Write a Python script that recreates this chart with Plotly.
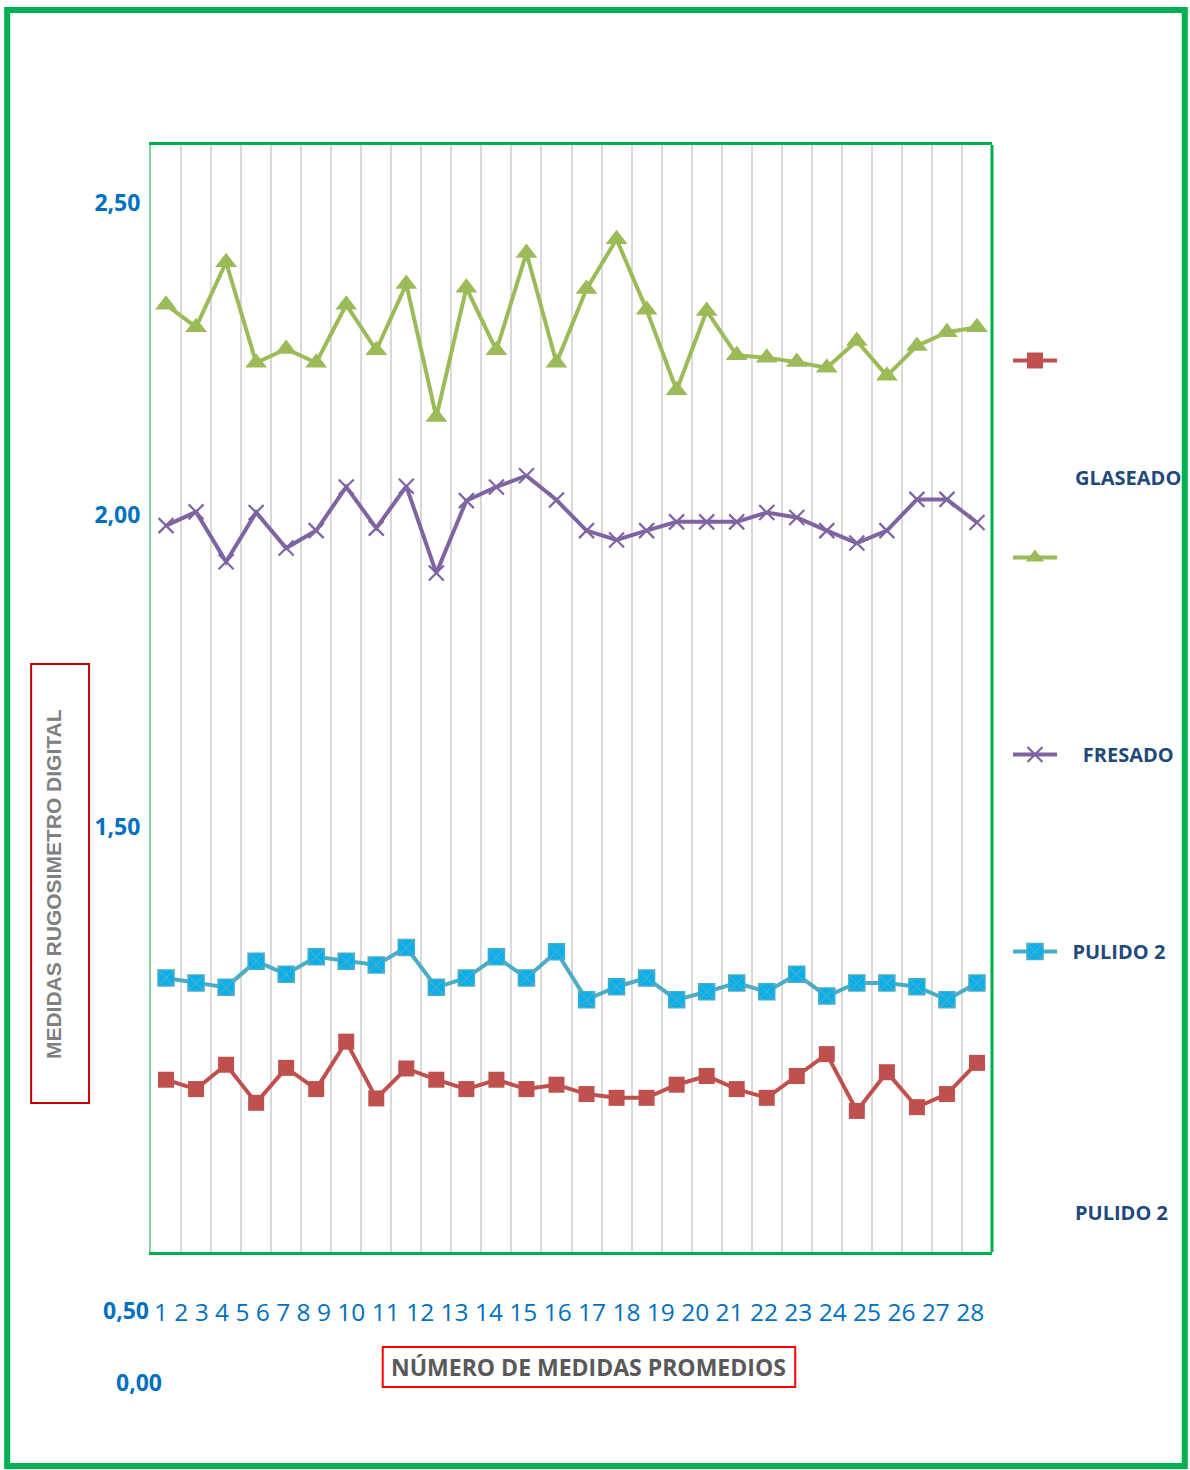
import plotly.graph_objects as go

# Roughness readings (digital profilometer), 28 averaged measurements per finish
medidas = list(range(1, 29))

glaseado = [1.095, 1.080, 1.119, 1.058, 1.114, 1.080, 1.156, 1.065, 1.113, 1.095,
            1.080, 1.095, 1.080, 1.087, 1.072, 1.066, 1.066, 1.087, 1.101, 1.080,
            1.066, 1.101, 1.136, 1.045, 1.107, 1.051, 1.072, 1.122]

serie_verde = [2.337, 2.301, 2.405, 2.244, 2.266, 2.244, 2.337, 2.264, 2.370, 2.157,
               2.364, 2.264, 2.420, 2.244, 2.362, 2.442, 2.329, 2.200, 2.327, 2.256,
               2.252, 2.245, 2.236, 2.279, 2.223, 2.271, 2.293, 2.301]

fresado = [1.983, 2.005, 1.925, 2.004, 1.947, 1.975, 2.045, 1.979, 2.046, 1.907,
           2.023, 2.045, 2.063, 2.024, 1.975, 1.960, 1.975, 1.989, 1.989, 1.989,
           2.004, 1.996, 1.975, 1.955, 1.975, 2.025, 2.025, 1.988]

pulido2 = [1.258, 1.250, 1.243, 1.285, 1.264, 1.292, 1.285, 1.279, 1.307, 1.243,
           1.258, 1.292, 1.258, 1.300, 1.223, 1.244, 1.258, 1.223, 1.236, 1.250,
           1.236, 1.264, 1.229, 1.250, 1.250, 1.244, 1.223, 1.250]

y_ticks = [2.5, 2.0, 1.5]
y_tick_text = ["2,50", "2,00", "1,50"]
x_label_text = " ".join(str(m) for m in medidas)

W, H = 1190, 1470
L, R, T, B = 151, 993, 145, 1252  # plot area in pixels


def px(x):
    return (x - L) / (R - L)


def py(y):
    return (B - y) / (B - T)


BLUE = "#0070C0"
NAVY = "#1F497D"
FONT = "Open Sans"

fig = go.Figure()

fig.add_trace(go.Scatter(
    x=medidas, y=glaseado, name="", legendgroup="a", mode="lines+markers",
    line=dict(color="#C0504D", width=4),
    marker=dict(symbol="square", size=16, color="#C0504D")))

fig.add_trace(go.Scatter(
    x=medidas, y=serie_verde, name="", legendgroup="b", mode="lines+markers",
    line=dict(color="#9BBB59", width=4),
    marker=dict(symbol="triangle-up", size=19, color="#9BBB59")))

fig.add_trace(go.Scatter(
    x=medidas, y=fresado, name="    FRESADO", legendgroup="c", mode="lines+markers",
    line=dict(color="#8064A2", width=4),
    marker=dict(symbol="x-thin", size=15, color="#8064A2",
                line=dict(color="#8064A2", width=2.2))))

fig.add_trace(go.Scatter(
    x=medidas, y=pulido2, name="  PULIDO 2", legendgroup="d", mode="lines+markers",
    line=dict(color="#4BACC6", width=4),
    marker=dict(symbol="square-x", size=16, color="#00B0F0",
                line=dict(color="#4BACC6", width=1.5))))

annotations = [
    # category numbers written as one row below the plot
    dict(x=px(152), y=py(1311), xref="paper", yref="paper", xanchor="left", yanchor="middle",
         text=x_label_text, showarrow=False, font=dict(family=FONT, size=24.5, color=BLUE)),
    dict(x=px(151), y=py(1310), xref="paper", yref="paper", xanchor="right", yanchor="middle",
         text="<b>0,50</b>", showarrow=False, font=dict(family=FONT, size=23, color=BLUE)),
    dict(x=px(139), y=py(1382), xref="paper", yref="paper", xanchor="center", yanchor="middle",
         text="<b>0,00</b>", showarrow=False, font=dict(family=FONT, size=23, color=BLUE)),
    # axis titles
    dict(x=px(589), y=py(1367), xref="paper", yref="paper", xanchor="center", yanchor="middle",
         text="<b>NÚMERO DE MEDIDAS PROMEDIOS</b>", showarrow=False,
         font=dict(family=FONT, size=23, color="#595959")),
    dict(x=px(53), y=py(884), xref="paper", yref="paper", xanchor="center", yanchor="middle",
         text="<b>MEDIDAS RUGOSIMETRO DIGITAL</b>", showarrow=False, textangle=-90,
         font=dict(family="Liberation Sans", size=21, color="#808080")),
    # loose legend captions
    dict(x=px(1074), y=py(478), xref="paper", yref="paper", xanchor="left", yanchor="middle",
         text="<b>GLASEADO</b>", showarrow=False, font=dict(family=FONT, size=20, color=NAVY)),
    dict(x=px(1074), y=py(1212), xref="paper", yref="paper", xanchor="left", yanchor="middle",
         text="<b>PULIDO 2</b>", showarrow=False, font=dict(family=FONT, size=20, color=NAVY)),
]

shapes = [
    # outer frame
    dict(type="rect", xref="paper", yref="paper", x0=px(7), x1=px(1186), y0=py(1466), y1=py(10),
         line=dict(color="#00B050", width=6)),
    # boxes around the axis titles
    dict(type="rect", xref="paper", yref="paper", x0=px(31), x1=px(89), y0=py(1103), y1=py(664),
         line=dict(color="#C00000", width=2)),
    dict(type="rect", xref="paper", yref="paper", x0=px(383), x1=px(796), y0=py(1387), y1=py(1347),
         line=dict(color="#FF0000", width=2)),
    # right edge of plot area
    dict(type="line", xref="paper", yref="paper", x0=1, x1=1, y0=0, y1=1,
         line=dict(color="#00B050", width=3)),
]

fig.update_layout(
    width=W, height=H,
    margin=dict(l=L, r=W - R, t=T, b=H - B),
    paper_bgcolor="white", plot_bgcolor="white",
    font=dict(family=FONT),
    showlegend=True,
    legend=dict(x=px(1008), y=py(341), xanchor="left", yanchor="top",
                xref="paper", yref="paper",
                tracegroupgap=168, traceorder="grouped", itemwidth=44,
                font=dict(family=FONT, size=20, color=NAVY, weight="bold"),
                bgcolor="rgba(0,0,0,0)"),
    annotations=annotations,
    shapes=shapes,
    xaxis=dict(range=[0.5, 28.5], tickvals=[k + 0.5 for k in range(1, 28)],
               showticklabels=False, ticks="", showgrid=True,
               gridcolor="#D9D9D9", gridwidth=1.5, zeroline=False,
               showline=True, linecolor="#00B050", linewidth=3, mirror=True),
    yaxis=dict(range=[2 - (B - 515) / 624, 2 + (515 - T) / 624],
               tickvals=y_ticks, ticktext=y_tick_text, ticks="",
               ticklabelstandoff=4,
               tickfont=dict(family=FONT, size=23, color=BLUE, weight="bold"),
               showgrid=False, zeroline=False,
               showline=True, linecolor="#7FD3A0", linewidth=2),
)

fig.write_html("out.html")
